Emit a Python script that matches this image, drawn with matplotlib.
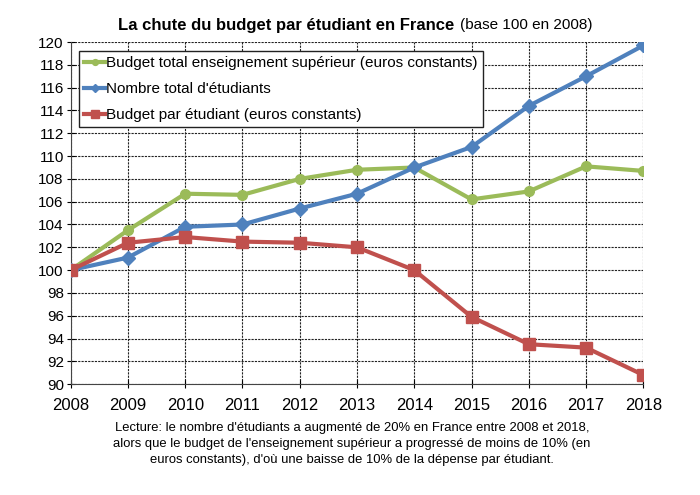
import numpy as np
import matplotlib
matplotlib.use('Agg')
import matplotlib.pyplot as plt

plt.rcParams['font.family'] = ['Liberation Sans', 'DejaVu Sans']

years = [2008, 2009, 2010, 2011, 2012, 2013, 2014, 2015, 2016, 2017, 2018]
budget_total = [100, 103.5, 106.7, 106.6, 108.0, 108.8, 109.0, 106.2, 106.9, 109.1, 108.7]
nb_etudiants = [100, 101.1, 103.8, 104.0, 105.4, 106.7, 109.0, 110.8, 114.4, 117.0, 119.7]
budget_par_etudiant = [100, 102.4, 102.9, 102.5, 102.4, 102.0, 100.0, 95.9, 93.5, 93.2, 90.8]

labels = ['Budget total enseignement supérieur (euros constants)',
          "Nombre total d'étudiants",
          'Budget par étudiant (euros constants)']

fig = plt.figure(figsize=(7, 4.95), dpi=100)
ax = fig.add_axes([0.101, 0.224, 0.818, 0.691])

ax.plot(years, budget_total, '-o', color='#9BBB59', lw=3, ms=7, label=labels[0], zorder=3)
ax.plot(years, nb_etudiants, '-D', color='#4F81BD', lw=3, ms=7, label=labels[1], zorder=4)
ax.plot(years, budget_par_etudiant, '-s', color='#C0504D', lw=3, ms=9, label=labels[2], zorder=5)

ax.set_xlim(2008, 2018)
ax.set_ylim(90, 120)
ax.set_xticks(years)
ax.set_yticks(np.arange(90, 121, 2))
ax.grid(True, color='#222222', linestyle=(0, (2, 1)), lw=0.8)
for s in ['top', 'right']:
    ax.spines[s].set_visible(False)
ax.spines['left'].set_color('#444444')
ax.spines['bottom'].set_color('#444444')
ax.tick_params(axis='x', labelsize=12, direction='inout', length=6, pad=7)
ax.tick_params(axis='y', labelsize=11, direction='inout', length=6, pad=2)

leg = ax.legend(loc='upper left', bbox_to_anchor=(0.014, 0.974), fontsize=11,
                frameon=True, fancybox=False, edgecolor='#222222', handlelength=1.4,
                handletextpad=0.05, borderaxespad=0, borderpad=0.35,
                labelspacing=0.78, markerscale=0.6, framealpha=1)
leg.get_frame().set_linewidth(1.0)

fig.text(0.169, 0.949, 'La chute du budget par étudiant en France', fontsize=12,
         fontweight='bold', va='center', ha='left')
fig.text(0.657, 0.949, '(base 100 en 2008)', fontsize=11, va='center', ha='left')

fig.text(0.503, 0.147,
         "Lecture: le nombre d'étudiants a augmenté de 20% en France entre 2008 et 2018,\n"
         "alors que le budget de l'enseignement supérieur a progressé de moins de 10% (en\n"
         "euros constants), d'où une baisse de 10% de la dépense par étudiant.",
         fontsize=9.4, ha='center', va='top', linespacing=1.42)

fig.savefig('out.png', dpi=100)
